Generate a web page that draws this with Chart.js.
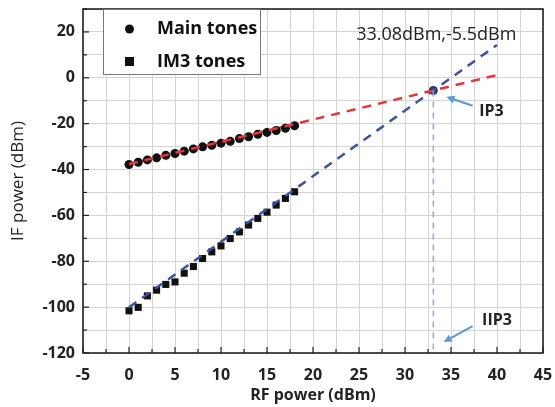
<!DOCTYPE html>
<html>
<head>
<meta charset="utf-8">
<script src="https://cdn.jsdelivr.net/npm/chart.js@4.4.1/dist/chart.umd.min.js"></script>
<style>
  html, body { margin: 0; padding: 0; background: #fff; }
  #wrap { width: 555px; height: 407px; }
</style>
</head>
<body>
<div id="wrap"><canvas id="ip3Chart"></canvas></div>
<script>
// measured RF input power (dBm)
const rfPower = [0, 1, 2, 3, 4, 5, 6, 7, 8, 9, 10, 11, 12, 13, 14, 15, 16, 17, 18];
const mainTones = [-37.8, -36.8, -35.8, -34.9, -33.8, -33.0, -32.0, -31.0, -30.1, -29.4,
                   -28.5, -27.7, -26.5, -25.7, -24.6, -23.8, -23.0, -22.0, -20.9];
const im3Tones = [-101.6, -100.1, -95.1, -92.6, -90.1, -89.0, -85.2, -82.3, -78.8, -75.9,
                  -73.3, -70.1, -67.2, -64.2, -61.3, -58.6, -55.5, -52.6, -49.7];

// extrapolated fit lines (endpoints)
const mainFitX = [0, 40];
const mainFitY = [-37.6, 1.2];
const im3FitX = [0, 40];
const im3FitY = [-100.1, 14.3];

// intercept point
const ip3X = 33.08;
const ip3Y = -5.5;
const ip3Label = "33.08dBm,-5.5dBm";

const xTicks = [-5, 0, 5, 10, 15, 20, 25, 30, 35, 40, 45];
const yTicks = [-120, -100, -80, -60, -40, -20, 0, 20];

const FONT = "'Open Sans', 'DejaVu Sans', sans-serif";

const toPts = (xs, ys) => xs.map((x, i) => ({ x: x, y: ys[i] }));

// frame, inward tick marks, legend and annotations
const decorPlugin = {
    id: "decor",
    afterDraw(chart) {
        const { ctx, chartArea: a, scales: { x, y } } = chart;
        ctx.save();

        // inward ticks
        ctx.strokeStyle = "#222";
        ctx.lineWidth = 1.2;
        for (let v = -5; v <= 45; v += 2.5) {
            const px = x.getPixelForValue(v);
            const len = v % 5 === 0 ? 6 : 4;
            ctx.beginPath();
            ctx.moveTo(px, a.bottom);
            ctx.lineTo(px, a.bottom - len);
            ctx.stroke();
        }
        for (let v = -120; v <= 30; v += 10) {
            const py = y.getPixelForValue(v);
            const len = v % 20 === 0 ? 6 : 4;
            ctx.beginPath();
            ctx.moveTo(a.left, py);
            ctx.lineTo(a.left + len, py);
            ctx.stroke();
        }

        // frame
        ctx.strokeStyle = "#222";
        ctx.lineWidth = 1.6;
        ctx.strokeRect(a.left, a.top, a.right - a.left, a.bottom - a.top);

        // legend box
        const lx = 103, ly = a.top, lw = 157, lh = 65;
        ctx.fillStyle = "#fff";
        ctx.fillRect(lx, ly, lw, lh);
        ctx.strokeStyle = "#777";
        ctx.lineWidth = 1;
        ctx.strokeRect(lx + 0.5, ly + 0.5, lw, lh);
        ctx.fillStyle = "#111";
        ctx.beginPath();
        ctx.arc(129.5, ly + 20, 4.5, 0, Math.PI * 2);
        ctx.fill();
        ctx.fillRect(125, ly + 48, 9, 9);
        ctx.font = "bold 18px " + FONT;
        ctx.textAlign = "left";
        ctx.textBaseline = "middle";
        ctx.fillText("Main tones", 157, ly + 20);
        ctx.fillText("IM3 tones", 157, ly + 53);

        // intercept text
        ctx.font = "500 18px " + FONT;
        ctx.textAlign = "center";
        ctx.fillStyle = "#222";
        ctx.fillText(ip3Label, x.getPixelForValue(33.4), y.getPixelForValue(18.7));

        // arrows
        const arrow = (x0, y0, x1, y1) => {
            const p0x = x.getPixelForValue(x0), p0y = y.getPixelForValue(y0);
            const p1x = x.getPixelForValue(x1), p1y = y.getPixelForValue(y1);
            const ang = Math.atan2(p1y - p0y, p1x - p0x);
            ctx.strokeStyle = "#5b9bd5";
            ctx.fillStyle = "#5b9bd5";
            ctx.lineWidth = 2;
            ctx.beginPath();
            ctx.moveTo(p0x, p0y);
            ctx.lineTo(p1x - 5 * Math.cos(ang), p1y - 5 * Math.sin(ang));
            ctx.stroke();
            ctx.beginPath();
            ctx.moveTo(p1x, p1y);
            ctx.lineTo(p1x - 9 * Math.cos(ang - 0.45), p1y - 9 * Math.sin(ang - 0.45));
            ctx.lineTo(p1x - 9 * Math.cos(ang + 0.45), p1y - 9 * Math.sin(ang + 0.45));
            ctx.closePath();
            ctx.fill();
        };
        arrow(37.35, -12.2, 34.5, -8.3);
        arrow(37.35, -108.3, 34.2, -115.2);

        ctx.fillStyle = "#222";
        ctx.font = "bold 16px " + FONT;
        ctx.fillText("IP3", x.getPixelForValue(39.4), y.getPixelForValue(-14.8));
        ctx.fillText("IIP3", x.getPixelForValue(40.0), y.getPixelForValue(-106));

        ctx.restore();
    }
};

new Chart(document.getElementById("ip3Chart"), {
    type: "scatter",
    data: {
        datasets: [
            {
                label: "IIP3 marker",
                data: [{ x: ip3X, y: ip3Y }, { x: ip3X, y: -120 }],
                showLine: true,
                borderColor: "#7fb2e0",
                borderWidth: 1.5,
                borderDash: [6, 5],
                pointRadius: 0,
            },
            {
                label: "Main fit",
                data: toPts(mainFitX, mainFitY),
                showLine: true,
                borderColor: "#e8343c",
                borderWidth: 2.5,
                borderDash: [9, 7],
                pointRadius: 0,
            },
            {
                label: "IM3 fit",
                data: toPts(im3FitX, im3FitY),
                showLine: true,
                borderColor: "#3c52a3",
                borderWidth: 2.5,
                borderDash: [9, 7],
                pointRadius: 0,
            },
            {
                label: "Main tones",
                data: toPts(rfPower, mainTones),
                pointStyle: "circle",
                pointRadius: 4.5,
                backgroundColor: "#111",
                borderColor: "#111",
                borderWidth: 0,
            },
            {
                label: "IM3 tones",
                data: toPts(rfPower, im3Tones),
                pointStyle: "rect",
                pointRadius: 5,
                backgroundColor: "#111",
                borderColor: "#111",
                borderWidth: 0,
            },
            {
                label: "IP3",
                data: [{ x: ip3X, y: ip3Y }],
                pointRadius: 4,
                backgroundColor: "#2b3f86",
                borderColor: "#1b2450",
                borderWidth: 1,
            },
            {
                label: "Main fit overlay",
                data: toPts([0, 18], [mainFitY[0], mainFitY[0] + (mainFitY[1] - mainFitY[0]) * 18 / 40]),
                showLine: true,
                borderColor: "#e8343c",
                borderWidth: 2,
                borderDash: [6, 5],
                pointRadius: 0,
            },
        ],
    },
    options: {
        responsive: true,
        maintainAspectRatio: false,
        animation: false,
        layout: { padding: { top: 9, right: 12, left: 8, bottom: 0 } },
        plugins: {
            legend: { display: false },
            tooltip: { enabled: false },
        },
        scales: {
            x: {
                type: "linear",
                min: -5,
                max: 45,
                afterFit: (s) => {
                    s.height = 54;
                    s.paddingLeft = 0;
                    s.paddingRight = 0;
                },
                afterBuildTicks: (s) => {
                    const t = [];
                    for (let v = -5; v <= 45; v += 2.5) t.push({ value: v });
                    s.ticks = t;
                },
                ticks: {
                    autoSkip: false,
                    maxRotation: 0,
                    color: "#222",
                    padding: 13,
                    font: { family: FONT, size: 16, weight: "bold" },
                    callback: (v) => (xTicks.includes(v) ? v : ""),
                },
                grid: { color: "#d4d4d4", lineWidth: 1, drawTicks: false },
                border: { display: false },
                title: {
                    display: true,
                    text: "RF power (dBm)",
                    color: "#222",
                    padding: { top: 0, bottom: 2 },
                    font: { family: FONT, size: 16, weight: "bold" },
                },
            },
            y: {
                type: "linear",
                min: -120,
                max: 30,
                afterFit: (s) => {
                    s.width = 75;
                    s.paddingTop = 0;
                    s.paddingBottom = 0;
                },
                afterBuildTicks: (s) => {
                    const t = [];
                    for (let v = -120; v <= 30; v += 10) t.push({ value: v });
                    s.ticks = t;
                },
                ticks: {
                    autoSkip: false,
                    color: "#222",
                    padding: 8,
                    font: { family: FONT, size: 16, weight: "bold" },
                    callback: (v) => (yTicks.includes(v) ? v : ""),
                },
                grid: { color: "#d4d4d4", lineWidth: 1, drawTicks: false },
                border: { display: false },
                title: {
                    display: true,
                    text: "IF power (dBm)",
                    color: "#222",
                    padding: { top: 0, bottom: 4 },
                    font: { family: FONT, size: 17, weight: "normal" },
                },
            },
        },
    },
    plugins: [decorPlugin],
});
</script>
</body>
</html>
